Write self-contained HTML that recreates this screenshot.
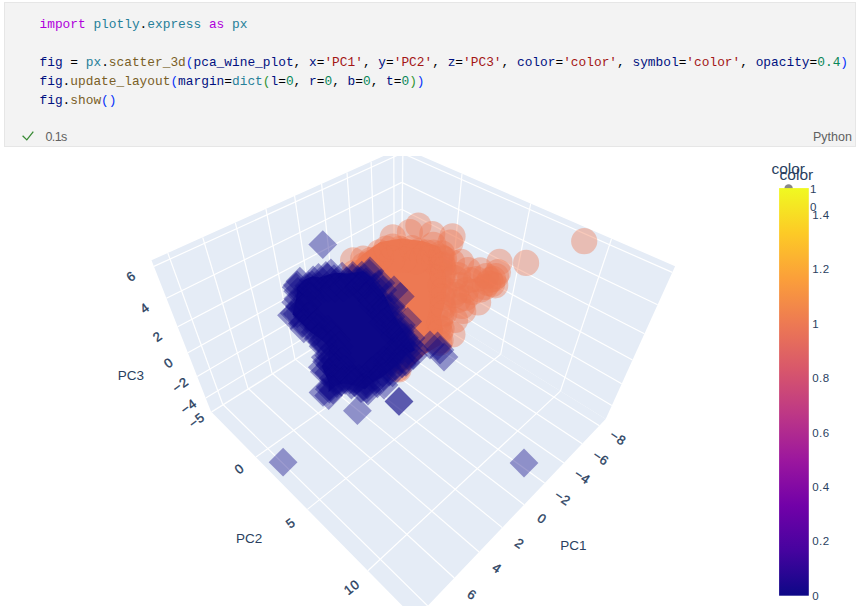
<!DOCTYPE html>
<html><head><meta charset="utf-8">
<style>
html,body{margin:0;padding:0;background:#fff;width:862px;height:609px;overflow:hidden;position:relative}
.cell{position:absolute;left:4px;top:2px;width:850px;height:143px;background:#f3f3f3;border:1px solid #e6e6e6}
.code{position:absolute;left:34.5px;top:12px;font-family:"Liberation Mono",monospace;font-size:12.83px;line-height:19px;white-space:pre;color:#000}
.k{color:#af00db}.c{color:#267f99}.v{color:#001080}.f{color:#795e26}.s{color:#a31515}.n{color:#098658}.b1{color:#0431fa}.b2{color:#319331}
.stat{position:absolute;left:40.5px;top:127.1px;font-family:"Liberation Sans",sans-serif;font-size:12.5px;line-height:15px;color:#616161;letter-spacing:-0.6px}
.py{position:absolute;left:808px;top:127.1px;font-family:"Liberation Sans",sans-serif;font-size:12.5px;line-height:15px;color:#616161}
svg text{font-family:"Liberation Sans",sans-serif}
</style></head><body>
<div class="cell">
<div class="code"><span class="k">import</span> <span class="c">plotly</span>.<span class="c">express</span> <span class="k">as</span> <span class="c">px</span>

<span class="v">fig</span> = <span class="c">px</span>.<span class="f">scatter_3d</span><span class="b1">(</span><span class="v">pca_wine_plot</span>, <span class="v">x</span>=<span class="s">'PC1'</span>, <span class="v">y</span>=<span class="s">'PC2'</span>, <span class="v">z</span>=<span class="s">'PC3'</span>, <span class="v">color</span>=<span class="s">'color'</span>, <span class="v">symbol</span>=<span class="s">'color'</span>, <span class="v">opacity</span>=<span class="n">0.4</span><span class="b1">)</span>
<span class="v">fig</span>.<span class="f">update_layout</span><span class="b1">(</span><span class="v">margin</span>=<span class="c">dict</span><span class="b2">(</span><span class="v">l</span>=<span class="n">0</span>, <span class="v">r</span>=<span class="n">0</span>, <span class="v">b</span>=<span class="n">0</span>, <span class="v">t</span>=<span class="n">0</span><span class="b2">)</span><span class="b1">)</span>
<span class="v">fig</span>.<span class="f">show</span><span class="b1">()</span></div>
<svg style="position:absolute;left:10.5px;top:122px" width="20" height="20"><polyline points="6.6,10.8 10.8,14.9 17.3,6.6" fill="none" stroke="#388a34" stroke-width="1.3"/></svg><div class="stat">0.1s</div>
<div class="py">Python</div>
</div>
<svg width="862" height="609" viewBox="0 0 862 609" style="position:absolute;left:0;top:0">
<defs><clipPath id="pc"><rect x="0" y="156" width="862" height="450"/></clipPath>
<linearGradient id="cb" x1="0" y1="1" x2="0" y2="0">
<stop offset="0.0000" stop-color="#0d0887"/><stop offset="0.1111" stop-color="#46039f"/><stop offset="0.2222" stop-color="#7201a8"/><stop offset="0.3333" stop-color="#9c179e"/><stop offset="0.4444" stop-color="#bd3786"/><stop offset="0.5556" stop-color="#d8576b"/><stop offset="0.6667" stop-color="#ed7953"/><stop offset="0.7778" stop-color="#fb9f3a"/><stop offset="0.8889" stop-color="#fdca26"/><stop offset="1.0000" stop-color="#f0f921"/>
</linearGradient></defs>
<g clip-path="url(#pc)">
<polygon points="211.0,411.5 400.9,292.4 605.7,419.1 415.3,618.9" fill="#e5ecf6"/>
<polygon points="211.0,411.5 400.9,292.4 402.1,147.7 151.5,260.3" fill="#e5ecf6"/>
<polygon points="400.9,292.4 605.7,419.1 675.1,266.2 402.1,147.7" fill="#e5ecf6"/>
<g stroke="#fff" stroke-width="1.2"><line x1="394.2" y1="296.5" x2="599.4" y2="425.7"/><line x1="394.2" y1="296.5" x2="393.8" y2="151.4"/><line x1="376.1" y1="307.9" x2="582.2" y2="443.7"/><line x1="376.1" y1="307.9" x2="371.1" y2="161.7"/><line x1="357.2" y1="319.8" x2="564.0" y2="462.9"/><line x1="357.2" y1="319.8" x2="347.0" y2="172.5"/><line x1="337.4" y1="332.2" x2="544.6" y2="483.1"/><line x1="337.4" y1="332.2" x2="321.6" y2="183.9"/><line x1="316.6" y1="345.2" x2="524.1" y2="504.7"/><line x1="316.6" y1="345.2" x2="294.6" y2="196.0"/><line x1="294.9" y1="358.9" x2="502.3" y2="527.6"/><line x1="294.9" y1="358.9" x2="265.9" y2="208.9"/><line x1="272.0" y1="373.2" x2="479.1" y2="552.0"/><line x1="272.0" y1="373.2" x2="235.3" y2="222.7"/><line x1="248.0" y1="388.3" x2="454.3" y2="578.0"/><line x1="248.0" y1="388.3" x2="202.7" y2="237.3"/><line x1="222.7" y1="404.2" x2="427.7" y2="605.9"/><line x1="222.7" y1="404.2" x2="167.8" y2="253.0"/><line x1="401.5" y1="292.7" x2="211.6" y2="412.1"/><line x1="401.5" y1="292.7" x2="402.9" y2="148.0"/><line x1="448.2" y1="321.6" x2="256.0" y2="457.1"/><line x1="448.2" y1="321.6" x2="462.0" y2="173.7"/><line x1="500.7" y1="354.2" x2="307.4" y2="509.4"/><line x1="500.7" y1="354.2" x2="530.7" y2="203.5"/><line x1="560.4" y1="391.1" x2="367.9" y2="570.8"/><line x1="560.4" y1="391.1" x2="611.6" y2="238.6"/><line x1="401.0" y1="278.8" x2="205.8" y2="398.1"/><line x1="401.0" y1="278.8" x2="611.8" y2="405.6"/><line x1="401.2" y1="257.3" x2="197.2" y2="376.5"/><line x1="401.2" y1="257.3" x2="621.7" y2="383.8"/><line x1="401.4" y1="234.2" x2="187.9" y2="352.8"/><line x1="401.4" y1="234.2" x2="632.5" y2="360.0"/><line x1="401.6" y1="209.3" x2="177.7" y2="326.8"/><line x1="401.6" y1="209.3" x2="644.4" y2="333.7"/><line x1="401.8" y1="182.4" x2="166.4" y2="298.2"/><line x1="401.8" y1="182.4" x2="657.6" y2="304.7"/><line x1="402.1" y1="153.2" x2="153.9" y2="266.4"/><line x1="402.1" y1="153.2" x2="672.3" y2="272.4"/></g>
<path d="M349.0,268.0 L362.0,255.0 L380.0,242.0 L401.3,238.5 L422.7,241.0 L439.7,247.0 L443.0,256.0 L445.0,268.3 L447.0,285.3 L445.0,302.4 L441.0,316.0 L443.0,330.0 L440.0,345.0 L425.0,354.0 L410.0,368.0 L398.0,374.0 L380.0,360.0 L360.0,320.0 L345.0,290.0Z" fill="#ed7953"/>
<circle cx="354.2" cy="272.9" r="13.1" fill="#ed7953" fill-opacity="0.4"/>
<circle cx="363.9" cy="265.3" r="13.1" fill="#ed7953" fill-opacity="0.4"/>
<circle cx="369.1" cy="263.1" r="13.1" fill="#ed7953" fill-opacity="0.4"/>
<circle cx="379.6" cy="252.3" r="13.1" fill="#ed7953" fill-opacity="0.4"/>
<circle cx="386.3" cy="248.7" r="13.1" fill="#ed7953" fill-opacity="0.4"/>
<circle cx="392.6" cy="246.7" r="13.1" fill="#ed7953" fill-opacity="0.4"/>
<circle cx="399.9" cy="248.9" r="13.1" fill="#ed7953" fill-opacity="0.4"/>
<circle cx="412.0" cy="248.0" r="13.1" fill="#ed7953" fill-opacity="0.4"/>
<circle cx="419.1" cy="250.9" r="13.1" fill="#ed7953" fill-opacity="0.4"/>
<circle cx="426.8" cy="252.7" r="13.1" fill="#ed7953" fill-opacity="0.4"/>
<circle cx="433.5" cy="252.6" r="13.1" fill="#ed7953" fill-opacity="0.4"/>
<circle cx="434.8" cy="262.0" r="13.1" fill="#ed7953" fill-opacity="0.4"/>
<circle cx="442.4" cy="258.0" r="13.1" fill="#ed7953" fill-opacity="0.4"/>
<circle cx="429.8" cy="258.6" r="13.1" fill="#ed7953" fill-opacity="0.4"/>
<circle cx="422.8" cy="257.1" r="13.1" fill="#ed7953" fill-opacity="0.4"/>
<circle cx="416.0" cy="261.2" r="13.1" fill="#ed7953" fill-opacity="0.4"/>
<circle cx="403.7" cy="259.8" r="13.1" fill="#ed7953" fill-opacity="0.4"/>
<circle cx="392.3" cy="258.8" r="13.1" fill="#ed7953" fill-opacity="0.4"/>
<circle cx="380.9" cy="256.7" r="13.1" fill="#ed7953" fill-opacity="0.4"/>
<circle cx="371.0" cy="260.1" r="13.1" fill="#ed7953" fill-opacity="0.4"/>
<circle cx="363.2" cy="258.5" r="13.1" fill="#ed7953" fill-opacity="0.4"/>
<circle cx="353.1" cy="260.3" r="13.1" fill="#ed7953" fill-opacity="0.4"/>
<circle cx="441.0" cy="256.8" r="13.1" fill="#ed7953" fill-opacity="0.4"/>
<circle cx="443.2" cy="264.6" r="13.1" fill="#ed7953" fill-opacity="0.4"/>
<circle cx="443.8" cy="269.9" r="13.1" fill="#ed7953" fill-opacity="0.4"/>
<circle cx="442.2" cy="277.0" r="13.1" fill="#ed7953" fill-opacity="0.4"/>
<circle cx="444.3" cy="289.4" r="13.1" fill="#ed7953" fill-opacity="0.4"/>
<circle cx="443.0" cy="297.9" r="13.1" fill="#ed7953" fill-opacity="0.4"/>
<circle cx="443.4" cy="307.5" r="13.1" fill="#ed7953" fill-opacity="0.4"/>
<circle cx="441.0" cy="316.0" r="13.1" fill="#ed7953" fill-opacity="0.4"/>
<circle cx="438.8" cy="327.1" r="13.1" fill="#ed7953" fill-opacity="0.4"/>
<circle cx="440.0" cy="332.5" r="13.1" fill="#ed7953" fill-opacity="0.4"/>
<circle cx="439.3" cy="342.8" r="13.1" fill="#ed7953" fill-opacity="0.4"/>
<circle cx="440.6" cy="340.6" r="13.1" fill="#ed7953" fill-opacity="0.4"/>
<circle cx="441.6" cy="328.5" r="13.1" fill="#ed7953" fill-opacity="0.4"/>
<circle cx="439.9" cy="321.5" r="13.1" fill="#ed7953" fill-opacity="0.4"/>
<circle cx="444.3" cy="313.2" r="13.1" fill="#ed7953" fill-opacity="0.4"/>
<circle cx="442.7" cy="305.0" r="13.1" fill="#ed7953" fill-opacity="0.4"/>
<circle cx="442.0" cy="296.3" r="13.1" fill="#ed7953" fill-opacity="0.4"/>
<circle cx="440.7" cy="285.6" r="13.1" fill="#ed7953" fill-opacity="0.4"/>
<circle cx="442.9" cy="275.0" r="13.1" fill="#ed7953" fill-opacity="0.4"/>
<circle cx="442.5" cy="265.7" r="13.1" fill="#ed7953" fill-opacity="0.4"/>
<circle cx="444.1" cy="259.0" r="13.1" fill="#ed7953" fill-opacity="0.4"/>
<circle cx="418.4" cy="225.6" r="13.1" fill="#ed7953" fill-opacity="0.4"/>
<circle cx="432.3" cy="234.1" r="13.1" fill="#ed7953" fill-opacity="0.4"/>
<circle cx="452.5" cy="236.3" r="13.1" fill="#ed7953" fill-opacity="0.4"/>
<circle cx="409.9" cy="232.0" r="13.1" fill="#ed7953" fill-opacity="0.4"/>
<circle cx="392.8" cy="237.3" r="13.1" fill="#ed7953" fill-opacity="0.4"/>
<circle cx="461.1" cy="261.9" r="13.1" fill="#ed7953" fill-opacity="0.4"/>
<circle cx="499.5" cy="261.9" r="13.1" fill="#ed7953" fill-opacity="0.4"/>
<circle cx="526.1" cy="262.9" r="13.1" fill="#ed7953" fill-opacity="0.4"/>
<circle cx="480.3" cy="270.4" r="13.1" fill="#ed7953" fill-opacity="0.4"/>
<circle cx="493.1" cy="278.9" r="13.1" fill="#ed7953" fill-opacity="0.4"/>
<circle cx="495.2" cy="285.3" r="13.1" fill="#ed7953" fill-opacity="0.4"/>
<circle cx="480.3" cy="289.6" r="13.1" fill="#ed7953" fill-opacity="0.4"/>
<circle cx="478.1" cy="302.4" r="13.1" fill="#ed7953" fill-opacity="0.4"/>
<circle cx="463.2" cy="310.9" r="13.1" fill="#ed7953" fill-opacity="0.4"/>
<circle cx="465.3" cy="298.1" r="13.1" fill="#ed7953" fill-opacity="0.4"/>
<circle cx="441.9" cy="253.3" r="13.1" fill="#ed7953" fill-opacity="0.4"/>
<circle cx="450.4" cy="242.7" r="13.1" fill="#ed7953" fill-opacity="0.4"/>
<circle cx="433.3" cy="244.8" r="13.1" fill="#ed7953" fill-opacity="0.4"/>
<circle cx="488.0" cy="283.0" r="13.1" fill="#ed7953" fill-opacity="0.4"/>
<circle cx="486.0" cy="276.0" r="13.1" fill="#ed7953" fill-opacity="0.4"/>
<circle cx="470.0" cy="280.0" r="13.1" fill="#ed7953" fill-opacity="0.4"/>
<circle cx="472.0" cy="292.0" r="13.1" fill="#ed7953" fill-opacity="0.4"/>
<circle cx="460.0" cy="285.0" r="13.1" fill="#ed7953" fill-opacity="0.4"/>
<circle cx="458.0" cy="300.0" r="13.1" fill="#ed7953" fill-opacity="0.4"/>
<circle cx="584.2" cy="241.2" r="13.1" fill="#ed7953" fill-opacity="0.4"/>
<circle cx="452.4" cy="334.5" r="13.1" fill="#ed7953" fill-opacity="0.4"/>
<circle cx="397.5" cy="368.5" r="13.1" fill="#ed7953" fill-opacity="0.4"/>
<circle cx="398.5" cy="369.5" r="13.1" fill="#ed7953" fill-opacity="0.4"/>
<circle cx="455.0" cy="320.0" r="13.1" fill="#ed7953" fill-opacity="0.4"/>
<circle cx="498.0" cy="272.0" r="13.1" fill="#ed7953" fill-opacity="0.4"/>
<circle cx="490.0" cy="280.0" r="13.1" fill="#ed7953" fill-opacity="0.4"/>
<circle cx="492.0" cy="284.0" r="13.1" fill="#ed7953" fill-opacity="0.4"/>
<circle cx="485.0" cy="287.0" r="13.1" fill="#ed7953" fill-opacity="0.4"/>
<circle cx="496.0" cy="276.0" r="13.1" fill="#ed7953" fill-opacity="0.4"/>
<circle cx="476.0" cy="279.0" r="13.1" fill="#ed7953" fill-opacity="0.4"/>
<circle cx="468.0" cy="270.0" r="13.1" fill="#ed7953" fill-opacity="0.4"/>
<circle cx="466.0" cy="290.0" r="13.1" fill="#ed7953" fill-opacity="0.4"/>
<circle cx="458.0" cy="275.0" r="13.1" fill="#ed7953" fill-opacity="0.4"/>
<circle cx="456.0" cy="292.0" r="13.1" fill="#ed7953" fill-opacity="0.4"/>
<circle cx="462.0" cy="306.0" r="13.1" fill="#ed7953" fill-opacity="0.4"/>
<circle cx="452.0" cy="262.0" r="13.1" fill="#ed7953" fill-opacity="0.4"/>
<circle cx="455.0" cy="278.0" r="13.1" fill="#ed7953" fill-opacity="0.4"/>
<circle cx="454.0" cy="295.0" r="13.1" fill="#ed7953" fill-opacity="0.4"/>
<path d="M363.5,271.2 L347.2,273.5 L335.0,272.8 L319.5,277.5 L312.2,276.2 L303.8,280.0 L296.5,287.8 L297.0,294.5 L292.5,314.5 L309.2,331.0 L325.0,342.5 L329.0,348.2 L328.5,357.0 L321.8,366.0 L329.0,383.2 L328.5,392.2 L336.2,385.5 L343.0,383.5 L356.8,385.8 L365.0,389.5 L371.8,382.8 L383.8,376.0 L397.8,364.8 L407.8,353.5 L415.0,350.2 L391.8,311.5 L385.5,296.2 L370.2,276.5Z" fill="#0d0887"/>
<path d="M311.5,275.4L325.9,261.0L340.3,275.4L325.9,289.8Z" fill="#0d0887" fill-opacity="0.4"/>
<path d="M316.5,273.0L330.9,258.6L345.3,273.0L330.9,287.4Z" fill="#0d0887" fill-opacity="0.4"/>
<path d="M327.7,276.1L342.1,261.7L356.5,276.1L342.1,290.5Z" fill="#0d0887" fill-opacity="0.4"/>
<path d="M338.4,275.3L352.8,260.9L367.2,275.3L352.8,289.7Z" fill="#0d0887" fill-opacity="0.4"/>
<path d="M347.4,275.2L361.8,260.8L376.2,275.2L361.8,289.6Z" fill="#0d0887" fill-opacity="0.4"/>
<path d="M354.8,273.3L369.2,258.9L383.6,273.3L369.2,287.7Z" fill="#0d0887" fill-opacity="0.4"/>
<path d="M285.5,281.2L299.9,266.8L314.3,281.2L299.9,295.6Z" fill="#0d0887" fill-opacity="0.4"/>
<path d="M298.7,279.9L313.1,265.5L327.5,279.9L313.1,294.3Z" fill="#0d0887" fill-opacity="0.4"/>
<path d="M304.1,277.4L318.5,263.0L332.9,277.4L318.5,291.8Z" fill="#0d0887" fill-opacity="0.4"/>
<path d="M313.2,277.4L327.6,263.0L342.0,277.4L327.6,291.8Z" fill="#0d0887" fill-opacity="0.4"/>
<path d="M319.6,278.7L334.0,264.3L348.4,278.7L334.0,293.1Z" fill="#0d0887" fill-opacity="0.4"/>
<path d="M321.5,282.5L335.9,268.1L350.3,282.5L335.9,296.9Z" fill="#0d0887" fill-opacity="0.4"/>
<path d="M332.0,281.0L346.4,266.6L360.8,281.0L346.4,295.4Z" fill="#0d0887" fill-opacity="0.4"/>
<path d="M338.1,277.8L352.5,263.4L366.9,277.8L352.5,292.2Z" fill="#0d0887" fill-opacity="0.4"/>
<path d="M343.7,280.5L358.1,266.1L372.5,280.5L358.1,294.9Z" fill="#0d0887" fill-opacity="0.4"/>
<path d="M346.4,280.4L360.8,266.0L375.2,280.4L360.8,294.8Z" fill="#0d0887" fill-opacity="0.4"/>
<path d="M351.5,281.6L365.9,267.2L380.3,281.6L365.9,296.0Z" fill="#0d0887" fill-opacity="0.4"/>
<path d="M281.8,287.2L296.2,272.8L310.6,287.2L296.2,301.6Z" fill="#0d0887" fill-opacity="0.4"/>
<path d="M282.8,285.0L297.2,270.6L311.6,285.0L297.2,299.4Z" fill="#0d0887" fill-opacity="0.4"/>
<path d="M294.3,285.8L308.7,271.4L323.1,285.8L308.7,300.2Z" fill="#0d0887" fill-opacity="0.4"/>
<path d="M297.7,284.8L312.1,270.4L326.5,284.8L312.1,299.2Z" fill="#0d0887" fill-opacity="0.4"/>
<path d="M302.2,287.0L316.6,272.6L331.0,287.0L316.6,301.4Z" fill="#0d0887" fill-opacity="0.4"/>
<path d="M309.9,288.4L324.3,274.0L338.7,288.4L324.3,302.8Z" fill="#0d0887" fill-opacity="0.4"/>
<path d="M313.9,288.3L328.3,273.9L342.7,288.3L328.3,302.7Z" fill="#0d0887" fill-opacity="0.4"/>
<path d="M320.4,288.0L334.8,273.6L349.2,288.0L334.8,302.4Z" fill="#0d0887" fill-opacity="0.4"/>
<path d="M328.8,287.5L343.2,273.1L357.6,287.5L343.2,301.9Z" fill="#0d0887" fill-opacity="0.4"/>
<path d="M335.0,283.9L349.4,269.5L363.8,283.9L349.4,298.3Z" fill="#0d0887" fill-opacity="0.4"/>
<path d="M344.3,286.9L358.7,272.5L373.1,286.9L358.7,301.3Z" fill="#0d0887" fill-opacity="0.4"/>
<path d="M345.9,286.6L360.3,272.2L374.7,286.6L360.3,301.0Z" fill="#0d0887" fill-opacity="0.4"/>
<path d="M352.1,285.4L366.5,271.0L380.9,285.4L366.5,299.8Z" fill="#0d0887" fill-opacity="0.4"/>
<path d="M360.7,286.7L375.1,272.3L389.5,286.7L375.1,301.1Z" fill="#0d0887" fill-opacity="0.4"/>
<path d="M363.9,284.1L378.3,269.7L392.7,284.1L378.3,298.5Z" fill="#0d0887" fill-opacity="0.4"/>
<path d="M283.4,291.3L297.8,276.9L312.2,291.3L297.8,305.7Z" fill="#0d0887" fill-opacity="0.4"/>
<path d="M292.8,292.3L307.2,277.9L321.6,292.3L307.2,306.7Z" fill="#0d0887" fill-opacity="0.4"/>
<path d="M353.6,294.9L368.0,280.5L382.4,294.9L368.0,309.3Z" fill="#0d0887" fill-opacity="0.4"/>
<path d="M358.2,291.5L372.6,277.1L387.0,291.5L372.6,305.9Z" fill="#0d0887" fill-opacity="0.4"/>
<path d="M368.4,289.9L382.8,275.5L397.2,289.9L382.8,304.3Z" fill="#0d0887" fill-opacity="0.4"/>
<path d="M283.4,298.7L297.8,284.3L312.2,298.7L297.8,313.1Z" fill="#0d0887" fill-opacity="0.4"/>
<path d="M294.7,295.5L309.1,281.1L323.5,295.5L309.1,309.9Z" fill="#0d0887" fill-opacity="0.4"/>
<path d="M295.6,296.6L310.0,282.2L324.4,296.6L310.0,311.0Z" fill="#0d0887" fill-opacity="0.4"/>
<path d="M357.0,299.4L371.4,285.0L385.8,299.4L371.4,313.8Z" fill="#0d0887" fill-opacity="0.4"/>
<path d="M358.3,301.0L372.7,286.6L387.1,301.0L372.7,315.4Z" fill="#0d0887" fill-opacity="0.4"/>
<path d="M365.0,299.3L379.4,284.9L393.8,299.3L379.4,313.7Z" fill="#0d0887" fill-opacity="0.4"/>
<path d="M281.3,302.3L295.7,287.9L310.1,302.3L295.7,316.7Z" fill="#0d0887" fill-opacity="0.4"/>
<path d="M285.1,306.2L299.5,291.8L313.9,306.2L299.5,320.6Z" fill="#0d0887" fill-opacity="0.4"/>
<path d="M293.0,304.0L307.4,289.6L321.8,304.0L307.4,318.4Z" fill="#0d0887" fill-opacity="0.4"/>
<path d="M358.7,305.2L373.1,290.8L387.5,305.2L373.1,319.6Z" fill="#0d0887" fill-opacity="0.4"/>
<path d="M366.1,307.6L380.5,293.2L394.9,307.6L380.5,322.0Z" fill="#0d0887" fill-opacity="0.4"/>
<path d="M371.2,307.2L385.6,292.8L400.0,307.2L385.6,321.6Z" fill="#0d0887" fill-opacity="0.4"/>
<path d="M377.1,306.5L391.5,292.1L405.9,306.5L391.5,320.9Z" fill="#0d0887" fill-opacity="0.4"/>
<path d="M279.9,313.2L294.3,298.8L308.7,313.2L294.3,327.6Z" fill="#0d0887" fill-opacity="0.4"/>
<path d="M288.4,308.2L302.8,293.8L317.2,308.2L302.8,322.6Z" fill="#0d0887" fill-opacity="0.4"/>
<path d="M290.5,308.8L304.9,294.4L319.3,308.8L304.9,323.2Z" fill="#0d0887" fill-opacity="0.4"/>
<path d="M366.2,312.9L380.6,298.5L395.0,312.9L380.6,327.3Z" fill="#0d0887" fill-opacity="0.4"/>
<path d="M372.0,310.8L386.4,296.4L400.8,310.8L386.4,325.2Z" fill="#0d0887" fill-opacity="0.4"/>
<path d="M377.6,308.9L392.0,294.5L406.4,308.9L392.0,323.3Z" fill="#0d0887" fill-opacity="0.4"/>
<path d="M277.1,315.3L291.5,300.9L305.9,315.3L291.5,329.7Z" fill="#0d0887" fill-opacity="0.4"/>
<path d="M282.9,313.9L297.3,299.5L311.7,313.9L297.3,328.3Z" fill="#0d0887" fill-opacity="0.4"/>
<path d="M292.8,316.4L307.2,302.0L321.6,316.4L307.2,330.8Z" fill="#0d0887" fill-opacity="0.4"/>
<path d="M298.5,319.3L312.9,304.9L327.3,319.3L312.9,333.7Z" fill="#0d0887" fill-opacity="0.4"/>
<path d="M370.2,314.4L384.6,300.0L399.0,314.4L384.6,328.8Z" fill="#0d0887" fill-opacity="0.4"/>
<path d="M376.6,317.1L391.0,302.7L405.4,317.1L391.0,331.5Z" fill="#0d0887" fill-opacity="0.4"/>
<path d="M287.8,323.6L302.2,309.2L316.6,323.6L302.2,338.0Z" fill="#0d0887" fill-opacity="0.4"/>
<path d="M289.1,323.1L303.5,308.7L317.9,323.1L303.5,337.5Z" fill="#0d0887" fill-opacity="0.4"/>
<path d="M298.8,325.3L313.2,310.9L327.6,325.3L313.2,339.7Z" fill="#0d0887" fill-opacity="0.4"/>
<path d="M302.5,323.0L316.9,308.6L331.3,323.0L316.9,337.4Z" fill="#0d0887" fill-opacity="0.4"/>
<path d="M368.9,322.3L383.3,307.9L397.7,322.3L383.3,336.7Z" fill="#0d0887" fill-opacity="0.4"/>
<path d="M374.6,324.4L389.0,310.0L403.4,324.4L389.0,338.8Z" fill="#0d0887" fill-opacity="0.4"/>
<path d="M381.3,324.7L395.7,310.3L410.1,324.7L395.7,339.1Z" fill="#0d0887" fill-opacity="0.4"/>
<path d="M387.0,325.1L401.4,310.7L415.8,325.1L401.4,339.5Z" fill="#0d0887" fill-opacity="0.4"/>
<path d="M289.4,328.8L303.8,314.4L318.2,328.8L303.8,343.2Z" fill="#0d0887" fill-opacity="0.4"/>
<path d="M300.9,332.1L315.3,317.7L329.7,332.1L315.3,346.5Z" fill="#0d0887" fill-opacity="0.4"/>
<path d="M303.8,327.8L318.2,313.4L332.6,327.8L318.2,342.2Z" fill="#0d0887" fill-opacity="0.4"/>
<path d="M313.4,329.4L327.8,315.0L342.2,329.4L327.8,343.8Z" fill="#0d0887" fill-opacity="0.4"/>
<path d="M381.3,330.6L395.7,316.2L410.1,330.6L395.7,345.0Z" fill="#0d0887" fill-opacity="0.4"/>
<path d="M385.9,331.4L400.3,317.0L414.7,331.4L400.3,345.8Z" fill="#0d0887" fill-opacity="0.4"/>
<path d="M304.0,337.1L318.4,322.7L332.8,337.1L318.4,351.5Z" fill="#0d0887" fill-opacity="0.4"/>
<path d="M309.6,338.5L324.0,324.1L338.4,338.5L324.0,352.9Z" fill="#0d0887" fill-opacity="0.4"/>
<path d="M316.7,335.0L331.1,320.6L345.5,335.0L331.1,349.4Z" fill="#0d0887" fill-opacity="0.4"/>
<path d="M380.5,336.1L394.9,321.7L409.3,336.1L394.9,350.5Z" fill="#0d0887" fill-opacity="0.4"/>
<path d="M386.5,335.2L400.9,320.8L415.3,335.2L400.9,349.6Z" fill="#0d0887" fill-opacity="0.4"/>
<path d="M390.0,337.5L404.4,323.1L418.8,337.5L404.4,351.9Z" fill="#0d0887" fill-opacity="0.4"/>
<path d="M303.8,338.8L318.2,324.4L332.6,338.8L318.2,353.2Z" fill="#0d0887" fill-opacity="0.4"/>
<path d="M307.7,341.7L322.1,327.3L336.5,341.7L322.1,356.1Z" fill="#0d0887" fill-opacity="0.4"/>
<path d="M315.9,344.2L330.3,329.8L344.7,344.2L330.3,358.6Z" fill="#0d0887" fill-opacity="0.4"/>
<path d="M321.8,339.7L336.2,325.3L350.6,339.7L336.2,354.1Z" fill="#0d0887" fill-opacity="0.4"/>
<path d="M387.3,342.7L401.7,328.3L416.1,342.7L401.7,357.1Z" fill="#0d0887" fill-opacity="0.4"/>
<path d="M389.8,341.4L404.2,327.0L418.6,341.4L404.2,355.8Z" fill="#0d0887" fill-opacity="0.4"/>
<path d="M395.4,344.5L409.8,330.1L424.2,344.5L409.8,358.9Z" fill="#0d0887" fill-opacity="0.4"/>
<path d="M308.7,346.3L323.1,331.9L337.5,346.3L323.1,360.7Z" fill="#0d0887" fill-opacity="0.4"/>
<path d="M319.7,348.5L334.1,334.1L348.5,348.5L334.1,362.9Z" fill="#0d0887" fill-opacity="0.4"/>
<path d="M324.5,346.2L338.9,331.8L353.3,346.2L338.9,360.6Z" fill="#0d0887" fill-opacity="0.4"/>
<path d="M387.2,345.6L401.6,331.2L416.0,345.6L401.6,360.0Z" fill="#0d0887" fill-opacity="0.4"/>
<path d="M393.8,350.7L408.2,336.3L422.6,350.7L408.2,365.1Z" fill="#0d0887" fill-opacity="0.4"/>
<path d="M400.1,349.7L414.5,335.3L428.9,349.7L414.5,364.1Z" fill="#0d0887" fill-opacity="0.4"/>
<path d="M310.9,357.3L325.3,342.9L339.7,357.3L325.3,371.7Z" fill="#0d0887" fill-opacity="0.4"/>
<path d="M314.4,355.6L328.8,341.2L343.2,355.6L328.8,370.0Z" fill="#0d0887" fill-opacity="0.4"/>
<path d="M323.1,353.1L337.5,338.7L351.9,353.1L337.5,367.5Z" fill="#0d0887" fill-opacity="0.4"/>
<path d="M376.8,353.6L391.2,339.2L405.6,353.6L391.2,368.0Z" fill="#0d0887" fill-opacity="0.4"/>
<path d="M384.3,351.4L398.7,337.0L413.1,351.4L398.7,365.8Z" fill="#0d0887" fill-opacity="0.4"/>
<path d="M394.2,356.3L408.6,341.9L423.0,356.3L408.6,370.7Z" fill="#0d0887" fill-opacity="0.4"/>
<path d="M399.0,355.5L413.4,341.1L427.8,355.5L413.4,369.9Z" fill="#0d0887" fill-opacity="0.4"/>
<path d="M312.2,361.3L326.6,346.9L341.0,361.3L326.6,375.7Z" fill="#0d0887" fill-opacity="0.4"/>
<path d="M317.2,358.0L331.6,343.6L346.0,358.0L331.6,372.4Z" fill="#0d0887" fill-opacity="0.4"/>
<path d="M319.9,359.6L334.3,345.2L348.7,359.6L334.3,374.0Z" fill="#0d0887" fill-opacity="0.4"/>
<path d="M326.8,361.4L341.2,347.0L355.6,361.4L341.2,375.8Z" fill="#0d0887" fill-opacity="0.4"/>
<path d="M369.2,360.5L383.6,346.1L398.0,360.5L383.6,374.9Z" fill="#0d0887" fill-opacity="0.4"/>
<path d="M373.0,362.2L387.4,347.8L401.8,362.2L387.4,376.6Z" fill="#0d0887" fill-opacity="0.4"/>
<path d="M376.2,361.8L390.6,347.4L405.0,361.8L390.6,376.2Z" fill="#0d0887" fill-opacity="0.4"/>
<path d="M386.7,358.8L401.1,344.4L415.5,358.8L401.1,373.2Z" fill="#0d0887" fill-opacity="0.4"/>
<path d="M391.5,362.3L405.9,347.9L420.3,362.3L405.9,376.7Z" fill="#0d0887" fill-opacity="0.4"/>
<path d="M307.9,367.3L322.3,352.9L336.7,367.3L322.3,381.7Z" fill="#0d0887" fill-opacity="0.4"/>
<path d="M315.2,364.9L329.6,350.5L344.0,364.9L329.6,379.3Z" fill="#0d0887" fill-opacity="0.4"/>
<path d="M321.9,367.9L336.3,353.5L350.7,367.9L336.3,382.3Z" fill="#0d0887" fill-opacity="0.4"/>
<path d="M362.9,367.0L377.3,352.6L391.7,367.0L377.3,381.4Z" fill="#0d0887" fill-opacity="0.4"/>
<path d="M365.6,365.3L380.0,350.9L394.4,365.3L380.0,379.7Z" fill="#0d0887" fill-opacity="0.4"/>
<path d="M372.7,366.8L387.1,352.4L401.5,366.8L387.1,381.2Z" fill="#0d0887" fill-opacity="0.4"/>
<path d="M380.9,366.6L395.3,352.2L409.7,366.6L395.3,381.0Z" fill="#0d0887" fill-opacity="0.4"/>
<path d="M387.8,363.8L402.2,349.4L416.6,363.8L402.2,378.2Z" fill="#0d0887" fill-opacity="0.4"/>
<path d="M309.9,371.7L324.3,357.3L338.7,371.7L324.3,386.1Z" fill="#0d0887" fill-opacity="0.4"/>
<path d="M314.5,372.8L328.9,358.4L343.3,372.8L328.9,387.2Z" fill="#0d0887" fill-opacity="0.4"/>
<path d="M322.1,372.1L336.5,357.7L350.9,372.1L336.5,386.5Z" fill="#0d0887" fill-opacity="0.4"/>
<path d="M330.9,370.0L345.3,355.6L359.7,370.0L345.3,384.4Z" fill="#0d0887" fill-opacity="0.4"/>
<path d="M333.4,375.6L347.8,361.2L362.2,375.6L347.8,390.0Z" fill="#0d0887" fill-opacity="0.4"/>
<path d="M356.9,371.6L371.3,357.2L385.7,371.6L371.3,386.0Z" fill="#0d0887" fill-opacity="0.4"/>
<path d="M358.0,370.3L372.4,355.9L386.8,370.3L372.4,384.7Z" fill="#0d0887" fill-opacity="0.4"/>
<path d="M368.3,373.2L382.7,358.8L397.1,373.2L382.7,387.6Z" fill="#0d0887" fill-opacity="0.4"/>
<path d="M375.0,372.1L389.4,357.7L403.8,372.1L389.4,386.5Z" fill="#0d0887" fill-opacity="0.4"/>
<path d="M378.2,372.9L392.6,358.5L407.0,372.9L392.6,387.3Z" fill="#0d0887" fill-opacity="0.4"/>
<path d="M318.9,378.4L333.3,364.0L347.7,378.4L333.3,392.8Z" fill="#0d0887" fill-opacity="0.4"/>
<path d="M323.2,380.8L337.6,366.4L352.0,380.8L337.6,395.2Z" fill="#0d0887" fill-opacity="0.4"/>
<path d="M330.7,380.7L345.1,366.3L359.5,380.7L345.1,395.1Z" fill="#0d0887" fill-opacity="0.4"/>
<path d="M335.5,380.0L349.9,365.6L364.3,380.0L349.9,394.4Z" fill="#0d0887" fill-opacity="0.4"/>
<path d="M339.2,379.2L353.6,364.8L368.0,379.2L353.6,393.6Z" fill="#0d0887" fill-opacity="0.4"/>
<path d="M344.7,378.7L359.1,364.3L373.5,378.7L359.1,393.1Z" fill="#0d0887" fill-opacity="0.4"/>
<path d="M351.5,381.4L365.9,367.0L380.3,381.4L365.9,395.8Z" fill="#0d0887" fill-opacity="0.4"/>
<path d="M362.2,379.6L376.6,365.2L391.0,379.6L376.6,394.0Z" fill="#0d0887" fill-opacity="0.4"/>
<path d="M368.9,376.7L383.3,362.3L397.7,376.7L383.3,391.1Z" fill="#0d0887" fill-opacity="0.4"/>
<path d="M315.7,386.7L330.1,372.3L344.5,386.7L330.1,401.1Z" fill="#0d0887" fill-opacity="0.4"/>
<path d="M322.4,383.6L336.8,369.2L351.2,383.6L336.8,398.0Z" fill="#0d0887" fill-opacity="0.4"/>
<path d="M326.9,382.2L341.3,367.8L355.7,382.2L341.3,396.6Z" fill="#0d0887" fill-opacity="0.4"/>
<path d="M337.0,385.0L351.4,370.6L365.8,385.0L351.4,399.4Z" fill="#0d0887" fill-opacity="0.4"/>
<path d="M340.2,382.6L354.6,368.2L369.0,382.6L354.6,397.0Z" fill="#0d0887" fill-opacity="0.4"/>
<path d="M349.0,387.5L363.4,373.1L377.8,387.5L363.4,401.9Z" fill="#0d0887" fill-opacity="0.4"/>
<path d="M352.8,384.8L367.2,370.4L381.6,384.8L367.2,399.2Z" fill="#0d0887" fill-opacity="0.4"/>
<path d="M362.9,383.8L377.3,369.4L391.7,383.8L377.3,398.2Z" fill="#0d0887" fill-opacity="0.4"/>
<path d="M314.9,389.2L329.3,374.8L343.7,389.2L329.3,403.6Z" fill="#0d0887" fill-opacity="0.4"/>
<path d="M346.6,388.7L361.0,374.3L375.4,388.7L361.0,403.1Z" fill="#0d0887" fill-opacity="0.4"/>
<path d="M352.2,389.1L366.6,374.7L381.0,389.1L366.6,403.5Z" fill="#0d0887" fill-opacity="0.4"/>
<path d="M308.4,244.6L322.8,230.2L337.2,244.6L322.8,259.0Z" fill="#0d0887" fill-opacity="0.4"/>
<path d="M268.7,462.2L283.1,447.8L297.5,462.2L283.1,476.6Z" fill="#0d0887" fill-opacity="0.4"/>
<path d="M509.6,463.0L524.0,448.6L538.4,463.0L524.0,477.4Z" fill="#0d0887" fill-opacity="0.4"/>
<path d="M384.6,401.4L399.0,387.0L413.4,401.4L399.0,415.8Z" fill="#0d0887" fill-opacity="0.4"/>
<path d="M384.6,401.4L399.0,387.0L413.4,401.4L399.0,415.8Z" fill="#0d0887" fill-opacity="0.4"/>
<path d="M343.0,410.7L357.4,396.3L371.8,410.7L357.4,425.1Z" fill="#0d0887" fill-opacity="0.4"/>
<path d="M314.3,395.6L328.7,381.2L343.1,395.6L328.7,410.0Z" fill="#0d0887" fill-opacity="0.4"/>
<path d="M308.6,392.4L323.0,378.0L337.4,392.4L323.0,406.8Z" fill="#0d0887" fill-opacity="0.4"/>
<path d="M318.6,390.0L333.0,375.6L347.4,390.0L333.0,404.4Z" fill="#0d0887" fill-opacity="0.4"/>
<path d="M423.2,346.0L437.6,331.6L452.0,346.0L437.6,360.4Z" fill="#0d0887" fill-opacity="0.4"/>
<path d="M425.6,350.0L440.0,335.6L454.4,350.0L440.0,364.4Z" fill="#0d0887" fill-opacity="0.4"/>
<path d="M429.6,357.0L444.0,342.6L458.4,357.0L444.0,371.4Z" fill="#0d0887" fill-opacity="0.4"/>
<path d="M415.6,345.0L430.0,330.6L444.4,345.0L430.0,359.4Z" fill="#0d0887" fill-opacity="0.4"/>
<path d="M353.6,391.0L368.0,376.6L382.4,391.0L368.0,405.4Z" fill="#0d0887" fill-opacity="0.4"/>
<path d="M369.6,385.0L384.0,370.6L398.4,385.0L384.0,399.4Z" fill="#0d0887" fill-opacity="0.4"/>
<path d="M385.9,296.4L400.3,282.0L414.7,296.4L400.3,310.8Z" fill="#0d0887" fill-opacity="0.4"/>
<path d="M393.3,321.4L407.7,307.0L422.1,321.4L407.7,335.8Z" fill="#0d0887" fill-opacity="0.4"/>
<path d="M366.6,283.0L381.0,268.6L395.4,283.0L381.0,297.4Z" fill="#0d0887" fill-opacity="0.4"/>
<path d="M355.6,271.0L370.0,256.6L384.4,271.0L370.0,285.4Z" fill="#0d0887" fill-opacity="0.4"/>
<path d="M396.6,338.0L411.0,323.6L425.4,338.0L411.0,352.4Z" fill="#0d0887" fill-opacity="0.4"/>
<path d="M379.6,290.0L394.0,275.6L408.4,290.0L394.0,304.4Z" fill="#0d0887" fill-opacity="0.4"/>
</g>
<g clip-path="url(#pc)"><text x="131.0" y="276.3" font-size="13" text-anchor="middle" dominant-baseline="central" fill="#2a3f5f" transform="rotate(-36 131.0 276.3)" stroke="#2a3f5f" stroke-width="0.35" letter-spacing="0.6">6</text><text x="144.9" y="308.0" font-size="13" text-anchor="middle" dominant-baseline="central" fill="#2a3f5f" transform="rotate(-36 144.9 308.0)" stroke="#2a3f5f" stroke-width="0.35" letter-spacing="0.6">4</text><text x="157.6" y="336.59999999999997" font-size="13" text-anchor="middle" dominant-baseline="central" fill="#2a3f5f" transform="rotate(-36 157.6 336.59999999999997)" stroke="#2a3f5f" stroke-width="0.35" letter-spacing="0.6">2</text><text x="168.6" y="362.7" font-size="13" text-anchor="middle" dominant-baseline="central" fill="#2a3f5f" transform="rotate(-36 168.6 362.7)" stroke="#2a3f5f" stroke-width="0.35" letter-spacing="0.6">0</text><text x="180.4" y="384.8" font-size="13" text-anchor="middle" dominant-baseline="central" fill="#2a3f5f" transform="rotate(-36 180.4 384.8)" stroke="#2a3f5f" stroke-width="0.35" letter-spacing="0.6">−2</text><text x="188.7" y="406.4" font-size="13" text-anchor="middle" dominant-baseline="central" fill="#2a3f5f" transform="rotate(-36 188.7 406.4)" stroke="#2a3f5f" stroke-width="0.35" letter-spacing="0.6">−4</text><text x="196.7" y="420.3" font-size="13" text-anchor="middle" dominant-baseline="central" fill="#2a3f5f" transform="rotate(-38 196.7 420.3)" stroke="#2a3f5f" stroke-width="0.35" letter-spacing="0.6">−5</text><text x="239.4" y="468.8" font-size="13" text-anchor="middle" dominant-baseline="central" fill="#2a3f5f" transform="rotate(-38 239.4 468.8)" stroke="#2a3f5f" stroke-width="0.35" letter-spacing="0.6">0</text><text x="290.6" y="523.1" font-size="13" text-anchor="middle" dominant-baseline="central" fill="#2a3f5f" transform="rotate(-38 290.6 523.1)" stroke="#2a3f5f" stroke-width="0.35" letter-spacing="0.6">5</text><text x="351.70000000000005" y="587.1" font-size="13" text-anchor="middle" dominant-baseline="central" fill="#2a3f5f" transform="rotate(-38 351.70000000000005 587.1)" stroke="#2a3f5f" stroke-width="0.35" letter-spacing="0.6">10</text><text x="618.0" y="437.8" font-size="13" text-anchor="middle" dominant-baseline="central" fill="#2a3f5f" transform="rotate(34 618.0 437.8)" stroke="#2a3f5f" stroke-width="0.35" letter-spacing="0.6">−8</text><text x="600.9" y="458.0" font-size="13" text-anchor="middle" dominant-baseline="central" fill="#2a3f5f" transform="rotate(34 600.9 458.0)" stroke="#2a3f5f" stroke-width="0.35" letter-spacing="0.6">−6</text><text x="582.3" y="476.7" font-size="13" text-anchor="middle" dominant-baseline="central" fill="#2a3f5f" transform="rotate(34 582.3 476.7)" stroke="#2a3f5f" stroke-width="0.35" letter-spacing="0.6">−4</text><text x="562.6999999999999" y="498.0" font-size="13" text-anchor="middle" dominant-baseline="central" fill="#2a3f5f" transform="rotate(34 562.6999999999999 498.0)" stroke="#2a3f5f" stroke-width="0.35" letter-spacing="0.6">−2</text><text x="541.9" y="518.6" font-size="13" text-anchor="middle" dominant-baseline="central" fill="#2a3f5f" transform="rotate(34 541.9 518.6)" stroke="#2a3f5f" stroke-width="0.35" letter-spacing="0.6">0</text><text x="519.5" y="543.4000000000001" font-size="13" text-anchor="middle" dominant-baseline="central" fill="#2a3f5f" transform="rotate(34 519.5 543.4000000000001)" stroke="#2a3f5f" stroke-width="0.35" letter-spacing="0.6">2</text><text x="496.9" y="568.2" font-size="13" text-anchor="middle" dominant-baseline="central" fill="#2a3f5f" transform="rotate(34 496.9 568.2)" stroke="#2a3f5f" stroke-width="0.35" letter-spacing="0.6">4</text><text x="472.0" y="594.7" font-size="13" text-anchor="middle" dominant-baseline="central" fill="#2a3f5f" transform="rotate(34 472.0 594.7)" stroke="#2a3f5f" stroke-width="0.35" letter-spacing="0.6">6</text><text x="131" y="375.9" font-size="13.5" text-anchor="middle" dominant-baseline="central" fill="#2a3f5f">PC3</text><text x="249.2" y="538.2" font-size="13.5" text-anchor="middle" dominant-baseline="central" fill="#2a3f5f">PC2</text><text x="573.5" y="545.8" font-size="13.5" text-anchor="middle" dominant-baseline="central" fill="#2a3f5f">PC1</text></g>
<circle cx="788.6" cy="188.5" r="4.2" fill="#888"/>
<rect x="779.1" y="188.1" width="29.7" height="407.6" fill="url(#cb)"/>
<text x="812.3" y="595.7" font-size="11.5" text-anchor="start" dominant-baseline="central" fill="#2a3f5f" letter-spacing="0.4">0</text><text x="812.3" y="541.3000000000001" font-size="11.5" text-anchor="start" dominant-baseline="central" fill="#2a3f5f" letter-spacing="0.4">0.2</text><text x="812.3" y="486.90000000000003" font-size="11.5" text-anchor="start" dominant-baseline="central" fill="#2a3f5f" letter-spacing="0.4">0.4</text><text x="812.3" y="432.50000000000006" font-size="11.5" text-anchor="start" dominant-baseline="central" fill="#2a3f5f" letter-spacing="0.4">0.6</text><text x="812.3" y="378.1" font-size="11.5" text-anchor="start" dominant-baseline="central" fill="#2a3f5f" letter-spacing="0.4">0.8</text><text x="812.3" y="323.70000000000005" font-size="11.5" text-anchor="start" dominant-baseline="central" fill="#2a3f5f" letter-spacing="0.4">1</text><text x="812.3" y="269.30000000000007" font-size="11.5" text-anchor="start" dominant-baseline="central" fill="#2a3f5f" letter-spacing="0.4">1.2</text><text x="812.3" y="214.90000000000003" font-size="11.5" text-anchor="start" dominant-baseline="central" fill="#2a3f5f" letter-spacing="0.4">1.4</text>
<text x="771.4" y="173.7" font-size="15.5" text-anchor="start" fill="#2a3f5f" dominant-baseline="auto">color</text>
<text x="779.6" y="179.6" font-size="15.5" text-anchor="start" fill="#2a3f5f">color</text>
<text x="810" y="188.7" font-size="11.5" text-anchor="start" dominant-baseline="central" fill="#2a3f5f">1</text>
<text x="810" y="207.4" font-size="11.5" text-anchor="start" dominant-baseline="central" fill="#2a3f5f">0</text>
</svg>
</body></html>
